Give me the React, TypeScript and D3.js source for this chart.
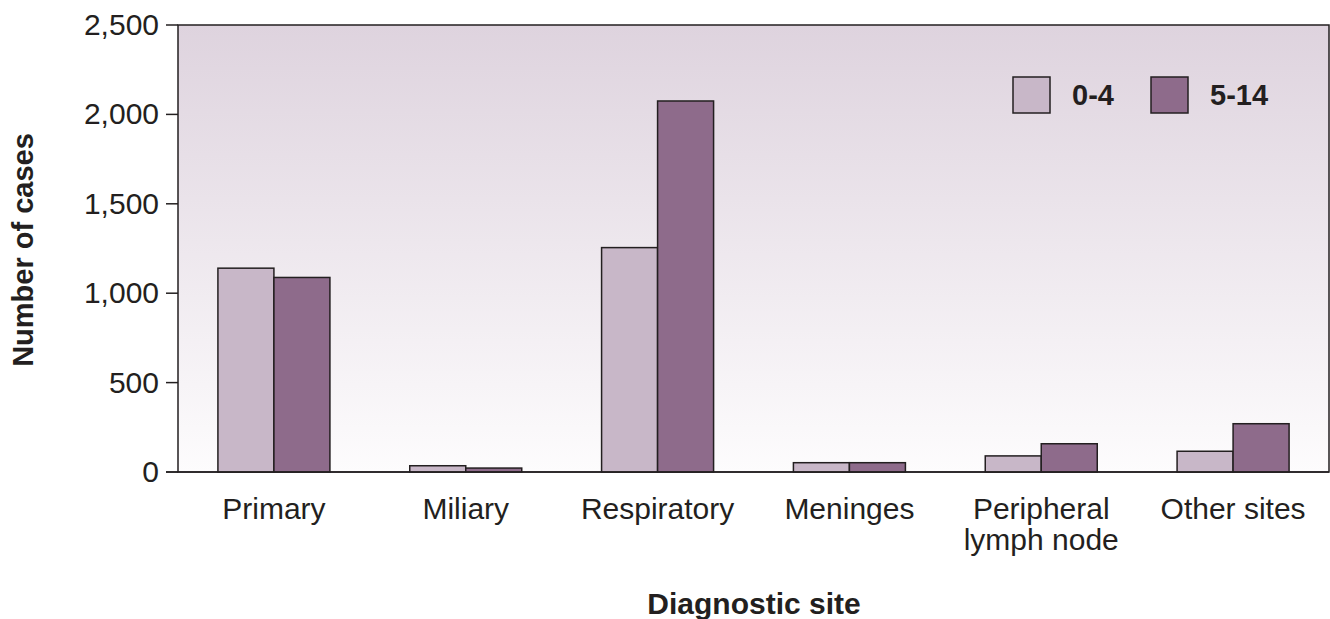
import React from "react";
import * as d3 from "d3";

const categories = ["Primary", "Miliary", "Respiratory", "Meninges", "Peripheral\nlymph node", "Other sites"];
const series = ["0-4", "5-14"];
const young = [1140, 35, 1255, 52, 90, 116];
const older = [1088, 22, 2075, 52, 158, 270];
const yTicks = [0, 500, 1000, 1500, 2000, 2500];
const colors = ["#c8b7c8", "#8e6b8b"];

const width = 1330,
  height = 619,
  left = 178,
  right = 1329,
  top = 25,
  bottom = 472;

const App = () => {
  const x = d3.scaleBand().domain(categories).range([left, right]).paddingInner(0).paddingOuter(0);
  const x1 = d3.scaleBand().domain(series).range([0, 112]);
  const y = d3.scaleLinear().domain([0, 2500]).range([bottom, top]);
  const fmt = d3.format(",");
  const values = [young, older];

  return (
    <svg width={width} height={height} style={{ position: "absolute", left: 0, top: 0 }} fontFamily="Liberation Sans, Arial, sans-serif">
      <defs>
        <linearGradient id="bg" x1="0" y1="0" x2="0" y2="1">
          <stop offset="0%" stopColor="#ded3de" />
          <stop offset="100%" stopColor="#fdfcfd" />
        </linearGradient>
      </defs>
      <rect x={left} y={top} width={right - left} height={bottom - top} fill="url(#bg)" stroke="#231f20" strokeWidth={1.5} />
      {yTicks.map(t => (
        <g key={t}>
          <line x1={left - 12} x2={left} y1={y(t)} y2={y(t)} stroke="#231f20" strokeWidth={1.5} />
          <text x={left - 19} y={y(t) + 10} textAnchor="end" fontSize={30} fill="#231f20">
            {fmt(t)}
          </text>
        </g>
      ))}
      {categories.map((c, i) =>
        series.map((s, j) => (
          <rect
            key={c + s}
            x={(x(c) as number) + x.bandwidth() / 2 - 56 + (x1(s) as number)}
            y={y(values[j][i])}
            width={x1.bandwidth()}
            height={bottom - y(values[j][i])}
            fill={colors[j]}
            stroke="#231f20"
            strokeWidth={1.5}
          />
        ))
      )}
      <line x1={left - 12} x2={right} y1={bottom} y2={bottom} stroke="#231f20" strokeWidth={1.5} />
      {categories.map(c => (
        <text key={c} x={(x(c) as number) + x.bandwidth() / 2} y={519} textAnchor="middle" fontSize={30} fill="#231f20">
          {c.split("\n").map((line, k) => (
            <tspan key={k} x={(x(c) as number) + x.bandwidth() / 2} dy={k === 0 ? 0 : 31}>
              {line}
            </tspan>
          ))}
        </text>
      ))}
      {series.map((s, j) => {
        const lx = [1013, 1151][j];
        return (
          <g key={s}>
            <rect x={lx} y={77} width={37} height={36} fill={colors[j]} stroke="#231f20" strokeWidth={1.5} />
            <text x={lx + 59} y={105} fontSize={29} fontWeight="bold" fill="#231f20">
              {s}
            </text>
          </g>
        );
      })}
      <text transform="translate(33,250) rotate(-90)" textAnchor="middle" fontSize={29} fontWeight="bold" fill="#231f20">
        Number of cases
      </text>
      <text x={754} y={614} textAnchor="middle" fontSize={30} fontWeight="bold" fill="#231f20">
        Diagnostic site
      </text>
    </svg>
  );
};

export default App;
